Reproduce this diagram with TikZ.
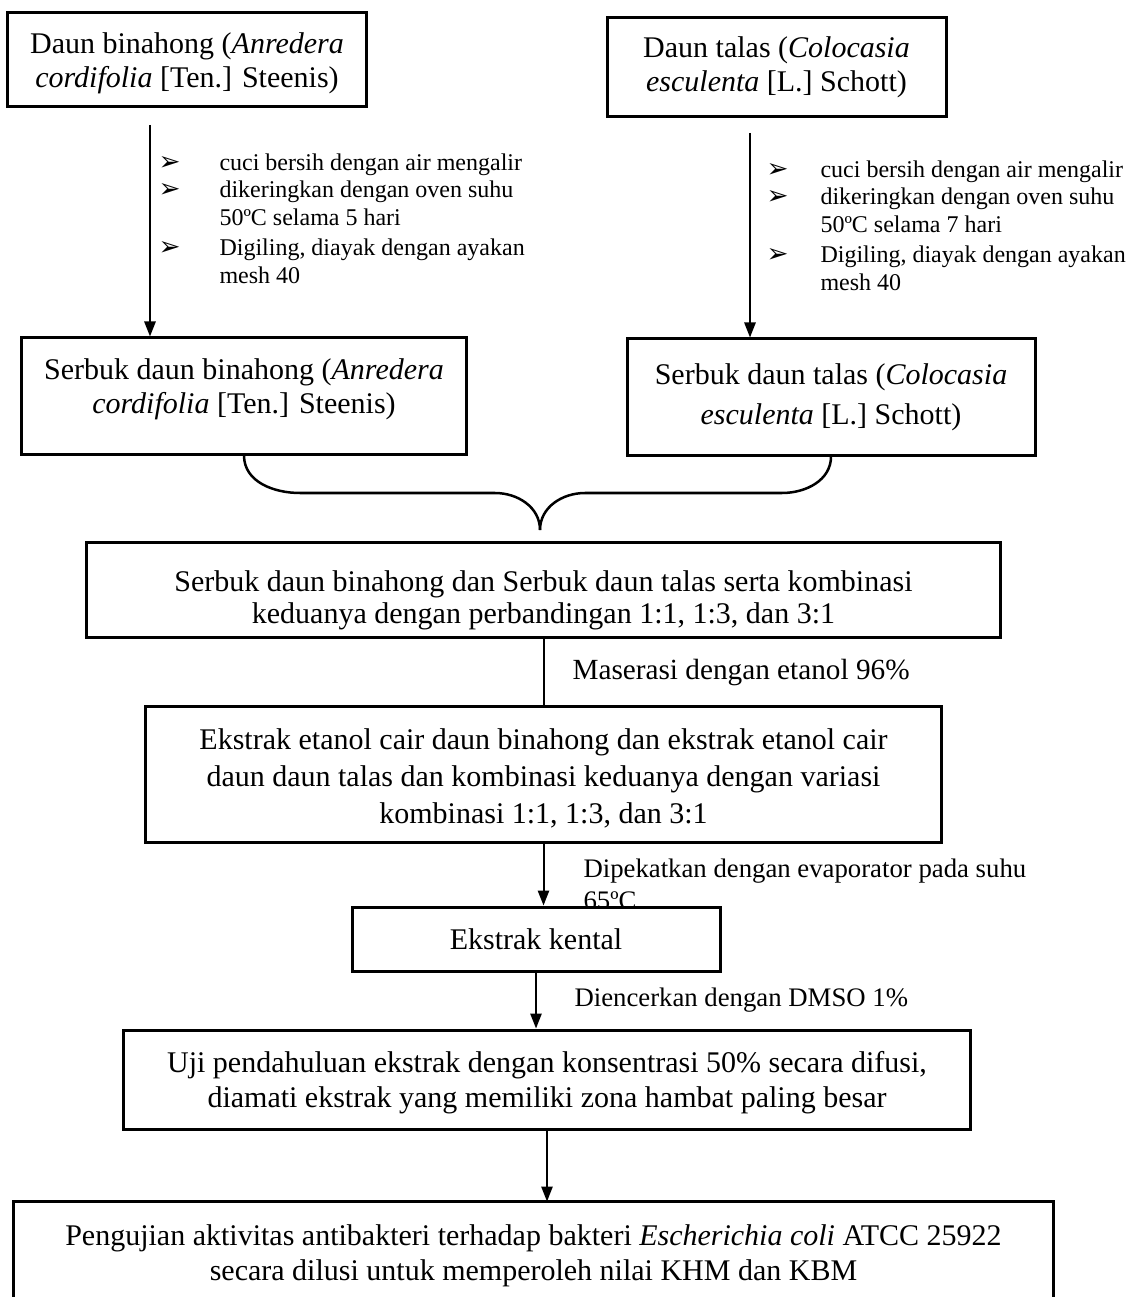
\documentclass[tikz,border=0pt]{standalone}
\usepackage{fontspec}
\setmainfont{Liberation Serif}
\newfontfamily\dejavu{DejaVu Sans}
\usetikzlibrary{arrows.meta}
\newlength\bw
\newcommand\bul{{\dejavu\fontsize{10.5}{10}\selectfont ➢}}
\newcommand\bitem[1]{\makebox[\bw][l]{\bul}#1}
\newcommand\cont[1]{\hspace*{\bw}#1}
\begin{document}
\begin{tikzpicture}[x=0.4pt,y=0.4pt,
  box/.style={draw,line width=1.2pt,align=center,inner sep=0pt,fill=white,font=\fontsize{12}{13.6}\selectfont},
  conn/.style={line width=0.8pt},
  arr/.style={conn,-{Triangle[length=6pt,width=4.5pt]}},
  brace/.style={line width=1pt},
  lbl/.style={align=left,inner sep=0pt,anchor=west,font=\fontsize{10.7}{12.8}\selectfont},
  lst/.style={align=left,inner sep=0pt,anchor=north west,font=\fontsize{9.6}{11}\selectfont}]
\useasboundingbox (0,0) rectangle (1127,-1297);

% top boxes
\node[box,minimum width=143.2pt,minimum height=37.6pt] (b1) at (187,-60)
  {\rule{0pt}{11pt}Daun binahong (\textit{Anredera}\\\textit{cordifolia} [Ten.] Steenis)};
\node[box,minimum width=135.6pt,minimum height=39.6pt] (b2) at (776.5,-67.5)
  {Daun talas (\textit{Colocasia}\\\textit{esculenta} [L.] Schott)};

% bullet lists
\setlength\bw{24.4pt}
\node[lst] (l1) at (158,-153)
  {\bitem{cuci bersih dengan air mengalir}\\
   \bitem{dikeringkan dengan oven suhu}\\
   \cont{50ºC selama 5 hari}\\[1.2pt]
   \bitem{Digiling, diayak dengan ayakan}\\
   \cont{mesh 40}};
\setlength\bw{21.6pt}
\node[lst] (l2) at (766,-160)
  {\bitem{cuci bersih dengan air mengalir}\\
   \bitem{dikeringkan dengan oven suhu}\\
   \cont{50ºC selama 7 hari}\\[1.2pt]
   \bitem{Digiling, diayak dengan ayakan}\\
   \cont{mesh 40}};

% powder boxes
\node[box,minimum width=177.6pt,minimum height=46.4pt] (b3) at (244,-396)
  {Serbuk daun binahong (\textit{Anredera}\\\textit{cordifolia} [Ten.] Steenis)\\[-5.6pt]};
\node[box,minimum width=163.2pt,minimum height=46.4pt,font=\fontsize{12}{16}\selectfont] (b4) at (831,-397)
  {Serbuk daun talas (\textit{Colocasia}\\\textit{esculenta} [L.] Schott)};

\coordinate (s1) at (150,-125);
\coordinate (s2) at (750,-133);
\draw[arr] (s1) -- (s1 |- b3.north);
\draw[arr] (s2) -- (s2 |- b4.north);

% brace
\coordinate (tip) at (540,-530);
\draw[brace] (b3.south) to[out=-90,in=180] (300,-493) -- (495,-493) to[out=0,in=90] (tip);
\draw[brace] (b4.south) to[out=-90,in=0] (782,-493) -- (585,-493) to[out=180,in=90] (tip);

% combined
\node[box,minimum width=365.2pt,minimum height=38pt,font=\fontsize{12}{12.6}\selectfont] (b5) at (543.5,-589.5)
  {\rule{0pt}{17pt}Serbuk daun binahong dan Serbuk daun talas serta kombinasi\\keduanya dengan perbandingan 1:1, 1:3, dan 3:1};

\node[box,minimum width=318pt,minimum height=54.4pt,font=\fontsize{12}{14.8}\selectfont] (b6) at (543.5,-774)
  {\rule{0pt}{12pt}Ekstrak etanol cair daun binahong dan ekstrak etanol cair\\daun daun talas dan kombinasi keduanya dengan variasi\\kombinasi 1:1, 1:3, dan 3:1};
\draw[conn] (b5.south) -- (b5.south |- b6.north);
\node[lbl,font=\fontsize{11.7}{13}\selectfont] (m1) at (572,-673) {Maserasi dengan etanol 96\%};

\node[lbl,anchor=north west] (m2) at (583,-858) {Dipekatkan dengan evaporator pada suhu\\65ºC};
\node[box,minimum width=147.2pt,minimum height=25.6pt] (b7) at (536,-939) {Ekstrak kental};
\draw[arr] (b6.south) -- (b6.south |- b7.north);

\node[box,minimum width=338.4pt,minimum height=39.6pt,font=\fontsize{12}{14}\selectfont] (b8) at (547,-1079.5)
  {\rule{0pt}{11pt}Uji pendahuluan ekstrak dengan konsentrasi 50\%\ secara difusi,\\diamati ekstrak yang memiliki zona hambat paling besar};
\draw[arr] (b7.south) -- (b7.south |- b8.north);
\node[lbl] (m3) at (574,-1000) {Diencerkan dengan DMSO 1\%};

\node[inner sep=0pt,align=center,minimum width=415.6pt,minimum height=38pt,font=\fontsize{12}{14}\selectfont] (b9) at (533.5,-1249.5)
  {\rule{0pt}{13pt}Pengujian aktivitas antibakteri terhadap bakteri \textit{Escherichia coli} ATCC 25922\\secara dilusi untuk memperoleh nilai KHM dan KBM};
\draw[line width=1.2pt] (b9.south west) |- (b9.north east) -- (b9.south east);
\draw[arr] (b8.south) -- (b8.south |- b9.north);
\end{tikzpicture}
\end{document}
